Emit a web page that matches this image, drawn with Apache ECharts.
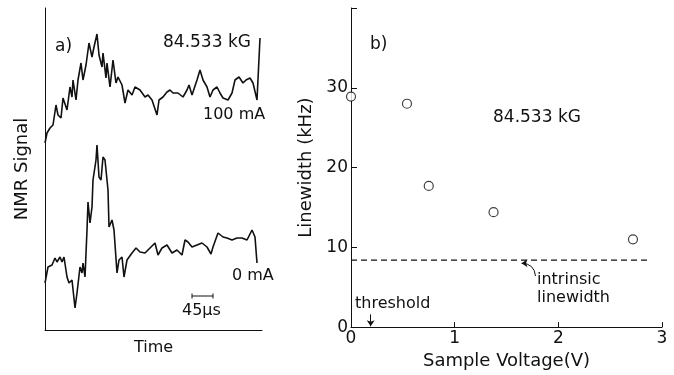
<!DOCTYPE html>
<html>
<head>
<meta charset="utf-8">
<script src="https://cdn.jsdelivr.net/npm/echarts@6/dist/echarts.min.js"></script>
<style>
  html, body { margin: 0; padding: 0; background: #fff; }
  #container { width: 674px; height: 375px; }
</style>
</head>
<body>
<div id="container"></div>
<script>
// panel a: NMR traces, time offset vs signal (arbitrary units)
var trace100mA = [[0,187],[2,197],[5,202],[8,205],[11,225],[13,215],[16,212],[18,232],[22,220],[25,243],
  [27,233],[28,250],[31,230],[33,250],[36,267],[38,250],[41,265],[44,287],[47,273],[49,283],[52,296],
  [54,275],[57,263],[58,277],[61,252],[62,267],[65,243],[68,270],[71,247],[73,253],[77,245],[80,227],
  [83,240],[87,235],[90,243],[95,240],[100,233],[103,235],[107,230],[112,215],[114,230],[118,233],
  [122,238],[125,240],[128,237],[133,237],[138,233],[142,240],[144,245],[147,235],[152,250],[155,260],
  [158,250],[162,243],[165,233],[168,240],[172,243],[175,237],[178,232],[183,230],[187,237],[190,250],
  [194,253],[198,247],[201,250],[205,252],[208,247],[212,230],[215,292]];
var trace0mA = [[0,47],[3,63],[7,65],[10,72],[12,68],[15,73],[17,68],[19,73],[22,53],[24,47],[27,50],
  [30,22],[32,37],[35,63],[37,57],[38,67],[40,53],[42,100],[43,128],[45,107],[47,123],[48,150],[51,170],
  [52,185],[54,153],[56,150],[58,173],[60,170],[63,140],[64,103],[67,110],[69,100],[72,57],[74,70],
  [77,73],[79,53],[82,70],[87,77],[91,82],[95,78],[100,77],[105,82],[110,87],[113,75],[117,82],[122,85],
  [127,77],[132,80],[137,75],[140,90],[143,88],[147,83],[152,85],[157,87],[162,83],[166,76],[168,83],
  [173,97],[178,93],[182,92],[187,90],[192,92],[197,92],[202,90],[207,100],[210,93],[212,67]];
var scaleBar = [[147,34],[168,34]];

// panel b: linewidth vs sample voltage
var voltage = [0, 0.54, 0.75, 1.375, 2.72];
var linewidth = [28.9, 28.0, 17.7, 14.4, 11.0];
var intrinsicWidth = 8.4;
var intrinsicSpan = [0, 2.87];
var thresholdV = 0.19;
var yTicks = [0, 10, 20, 30];

var ink = '#111';
var font = 'DejaVu Sans';
var myChart = echarts.init(document.getElementById('container'));

var option = {
  backgroundColor: '#fff',
  animation: false,
  textStyle: { fontFamily: font, color: ink },
  grid: [
    { left: 45, top: 8, width: 217, height: 322 },
    { left: 351, top: 8, width: 311, height: 323 }
  ],
  xAxis: [
    {
      gridIndex: 0, type: 'value', min: 0, max: 217,
      name: 'Time', nameLocation: 'middle', nameGap: 10,
      nameTextStyle: { fontSize: 16, color: ink },
      axisLine: { lineStyle: { color: ink, width: 1 } },
      axisTick: { show: false }, axisLabel: { show: false }, splitLine: { show: false }
    },
    {
      gridIndex: 1, type: 'value', min: 0, max: 3, interval: 1,
      name: 'Sample Voltage(V)', nameLocation: 'middle', nameGap: 24,
      nameTextStyle: { fontSize: 18, color: ink },
      axisLine: { lineStyle: { color: ink, width: 1 } },
      axisTick: { inside: true, length: 5, lineStyle: { color: ink } },
      axisLabel: { fontSize: 17, color: ink, margin: 3 },
      splitLine: { show: false }
    }
  ],
  yAxis: [
    {
      gridIndex: 0, type: 'value', min: 0, max: 322,
      name: 'NMR Signal', nameLocation: 'middle', nameGap: 14,
      nameTextStyle: { fontSize: 18, color: ink },
      axisLine: { show: true, lineStyle: { color: ink, width: 1 } },
      axisTick: { show: false }, axisLabel: { show: false }, splitLine: { show: false }
    },
    {
      gridIndex: 1, type: 'value', min: 0, max: 40, interval: 10,
      name: 'Linewidth (kHz)', nameLocation: 'middle', nameGap: 36,
      nameTextStyle: { fontSize: 18, color: ink },
      axisLine: { show: true, lineStyle: { color: ink, width: 1 } },
      axisTick: { inside: true, length: 6, lineStyle: { color: ink } },
      axisLabel: {
        fontSize: 17, color: ink, margin: 3, padding: [3, 0, 0, 0],
        formatter: function (v) { return yTicks.indexOf(v) >= 0 ? String(v) : ''; }
      },
      splitLine: { show: false }
    }
  ],
  series: [
    {
      type: 'line', xAxisIndex: 0, yAxisIndex: 0, data: trace100mA,
      showSymbol: false, lineStyle: { color: ink, width: 1.6 }
    },
    {
      type: 'line', xAxisIndex: 0, yAxisIndex: 0, data: trace0mA,
      showSymbol: false, lineStyle: { color: ink, width: 1.6 }
    },
    {
      type: 'line', xAxisIndex: 0, yAxisIndex: 0, data: scaleBar,
      symbol: 'rect', symbolSize: [1, 5], itemStyle: { color: ink },
      lineStyle: { color: ink, width: 1 }
    },
    {
      type: 'scatter', xAxisIndex: 1, yAxisIndex: 1,
      data: voltage.map(function (v, i) { return [v, linewidth[i]]; }),
      symbol: 'circle', symbolSize: 9,
      itemStyle: { color: '#fff', borderColor: ink, borderWidth: 1.2 }
    },
    {
      type: 'line', xAxisIndex: 1, yAxisIndex: 1,
      data: [[intrinsicSpan[0], intrinsicWidth], [intrinsicSpan[1], intrinsicWidth]],
      showSymbol: false, lineStyle: { color: ink, width: 1.2, type: [6, 4] }
    },
    {
      // curved pointer to the dashed line, and the threshold arrow
      type: 'lines', coordinateSystem: 'cartesian2d', xAxisIndex: 1, yAxisIndex: 1,
      symbol: ['none', 'arrow'], symbolSize: 6,
      lineStyle: { color: ink, width: 1, opacity: 1 },
      data: [
        { coords: [[1.78, 6.4], [1.645, 8.0]], lineStyle: { curveness: -0.45 } },
        { coords: [[thresholdV, 1.6], [thresholdV, 0.1]], lineStyle: { curveness: 0 } }
      ]
    }
  ],
  graphic: [
    { type: 'text', left: 55, top: 38, style: { text: 'a)', font: '17px ' + font, fill: ink } },
    { type: 'text', left: 163, top: 34, style: { text: '84.533 kG', font: '17px ' + font, fill: ink } },
    { type: 'text', left: 203, top: 107, style: { text: '100 mA', font: '16px ' + font, fill: ink } },
    { type: 'text', left: 232, top: 268, style: { text: '0 mA', font: '16px ' + font, fill: ink } },
    { type: 'text', left: 182, top: 303, style: { text: '45\u03bcs', font: '16px ' + font, fill: ink } },
    { type: 'text', left: 370, top: 36, style: { text: 'b)', font: '17px ' + font, fill: ink } },
    { type: 'text', left: 493, top: 109, style: { text: '84.533 kG', font: '17px ' + font, fill: ink } },
    { type: 'text', left: 537, top: 271, style: { text: 'intrinsic\nlinewidth', font: '16px ' + font, fill: ink, lineHeight: 18 } },
    { type: 'text', left: 355, top: 296, style: { text: 'threshold', font: '16px ' + font, fill: ink } }
  ]
};

myChart.setOption(option);
</script>
</body>
</html>
